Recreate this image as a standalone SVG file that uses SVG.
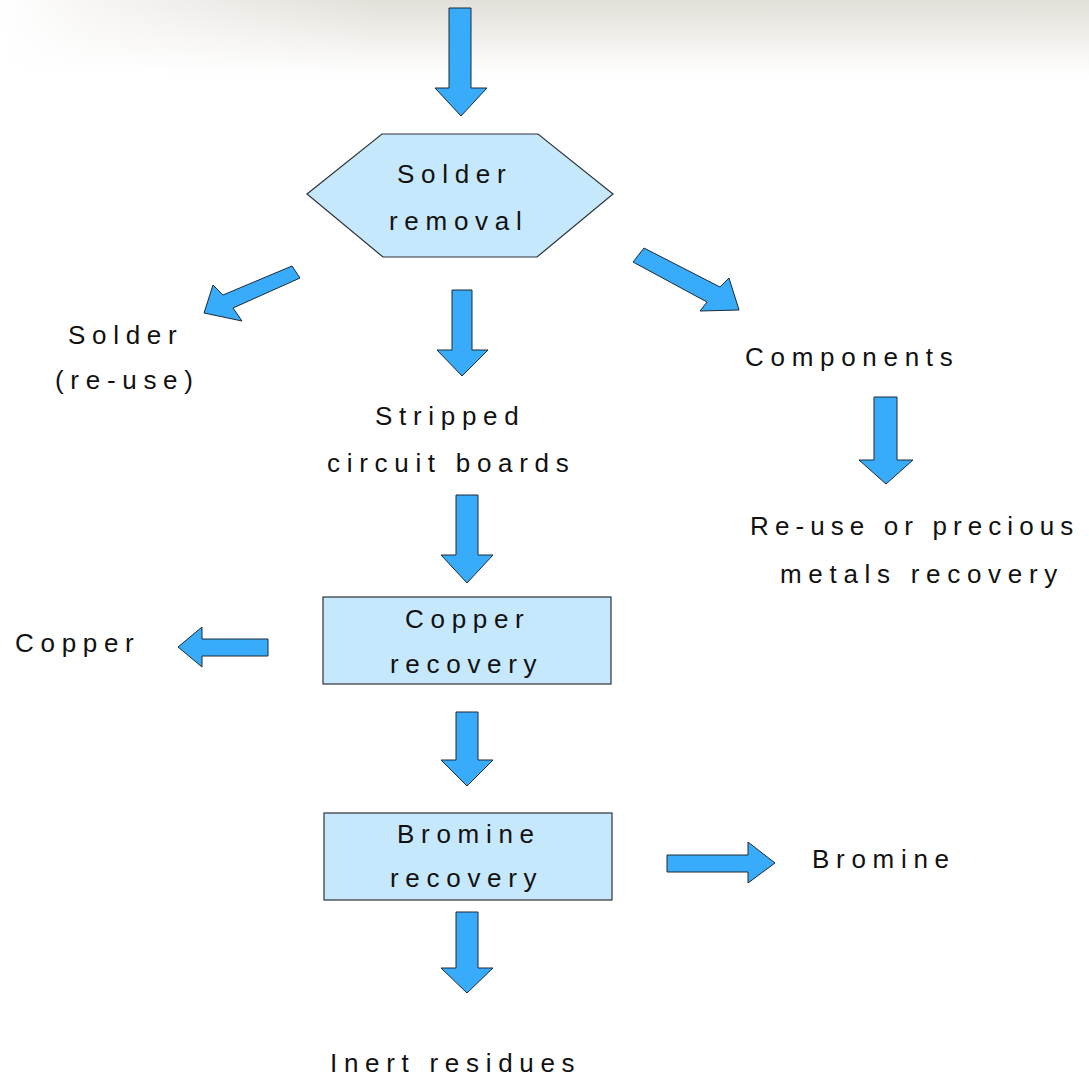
<svg xmlns="http://www.w3.org/2000/svg" width="1089" height="1078" viewBox="0 0 1089 1078">
<defs>
<linearGradient id="bgV" x1="0" y1="0" x2="0" y2="1">
<stop offset="0" stop-color="#e3dfd9"/>
<stop offset="0.5" stop-color="#f1efeb"/>
<stop offset="1" stop-color="#ffffff"/>
</linearGradient>
<linearGradient id="bgH" x1="0" y1="0" x2="1" y2="0">
<stop offset="0" stop-color="#ffffff" stop-opacity="1"/>
<stop offset="0.08" stop-color="#ffffff" stop-opacity="0.7"/>
<stop offset="0.35" stop-color="#ffffff" stop-opacity="0"/>
</linearGradient>
<style>
.arr{fill:#38abfa;stroke:#1c2a36;stroke-width:1;stroke-linejoin:miter}
.box{fill:#c6e8fc;stroke:#2e3338;stroke-width:1.2}
text{font-family:"Liberation Sans",Arial,sans-serif;font-size:26px;letter-spacing:6.7px;fill:#111}
.tight{letter-spacing:6.1px}
</style>
</defs>
<rect width="1089" height="1078" fill="#ffffff"/>
<rect width="1089" height="75" fill="url(#bgV)"/>
<rect width="1089" height="75" fill="url(#bgH)"/>

<g id="connectors">
<polygon class="arr" points="449,8 471,8 471,88 487,88 461,116 435,88 449,88"/>
<polygon class="arr" points="452,290 472,290 472,350 488,350 462,376 437,350 452,350"/>
<polygon class="arr" points="292,266 223,295 213,285 204,313 242,321 233,308 300,278"/>
<polygon class="arr" points="644,248 720,287 729,278 739,310 700,311 707,302 633,262"/>
<polygon class="arr" points="456,495 478,495 478,555 493,555 467,583 441,555 456,555"/>
<polygon class="arr" points="874,397 897,397 897,460 913,460 886,484 859,460 874,460"/>
<polygon class="arr" points="268,639 268,656 202,656 202,667 178,647 202,627 202,639"/>
<polygon class="arr" points="456,712 478,712 478,760 493,760 467,786 441,760 456,760"/>
<polygon class="arr" points="667,855 748,855 748,842 775,863 748,883 748,872 667,872"/>
<polygon class="arr" points="456,912 478,912 478,968 493,968 467,993 441,968 456,968"/>
</g>

<g id="solder-removal">
<polygon class="box" points="307,194 382,134 538,134 613,194 537,257 383,257"/>
<text x="397" y="183">Solder</text>
<text x="389" y="230">removal</text>
</g>
<g id="solder-reuse">
<text x="68" y="344">Solder</text>
<text x="55" y="389">(re-use)</text>
</g>
<g id="stripped">
<text x="375" y="425">Stripped</text>
<text x="327" y="472">circuit boards</text>
</g>
<g id="components">
<text x="745" y="366">Components</text>
</g>
<g id="reuse-precious">
<text class="tight" x="750" y="535">Re-use or precious</text>
<text x="780" y="583">metals recovery</text>
</g>
<g id="copper-recovery">
<rect class="box" x="323" y="597" width="288" height="87"/>
<text x="405" y="628">Copper</text>
<text x="390" y="673">recovery</text>
</g>
<g id="copper">
<text x="15" y="652">Copper</text>
</g>
<g id="bromine-recovery">
<rect class="box" x="324" y="813" width="288" height="87"/>
<text x="397" y="843">Bromine</text>
<text x="390" y="887">recovery</text>
</g>
<g id="bromine">
<text x="812" y="868">Bromine</text>
</g>
<g id="inert">
<text x="330" y="1072">Inert residues</text>
</g>
</svg>
